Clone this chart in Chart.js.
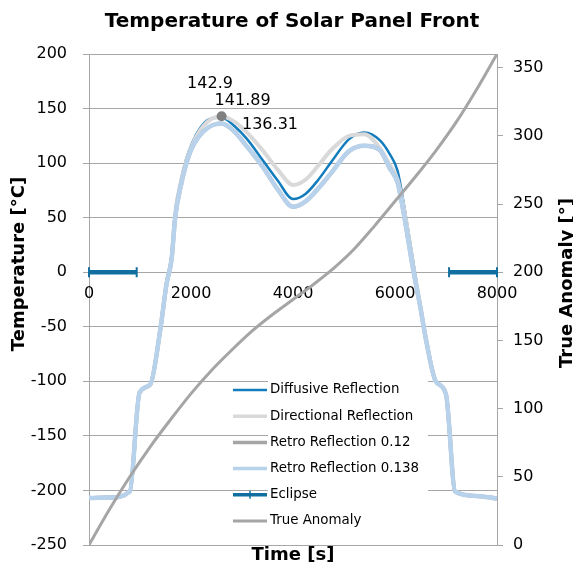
<!DOCTYPE html>
<html><head><meta charset="utf-8">
<script src="https://cdn.jsdelivr.net/npm/chart.js@4"></script>
<style>html,body{margin:0;padding:0;background:#fff;overflow:hidden;}</style>
</head><body>
<canvas id="c" width="573" height="565"></canvas>
<script>
const chartTitle = 'Temperature of Solar Panel Front';
const xTitle = 'Time [s]';
const yTitle = 'Temperature [°C]';
const y2Title = 'True Anomaly [°]';
const seriesNames = ['Diffusive Reflection', 'Directional Reflection', 'Retro Reflection 0.12', 'Retro Reflection 0.138', 'Eclipse', 'True Anomaly'];

const xTicks = [0, 2000, 4000, 6000, 8000];
const yTicks = [-250, -200, -150, -100, -50, 0, 50, 100, 150, 200];
const y2Ticks = [0, 50, 100, 150, 200, 250, 300, 350];

const tempTimes = [0, 400, 800, 990, 1200, 1400, 1520, 1620, 1690, 1800, 1900, 2000, 2150, 2350, 2600, 2850, 3100, 3400, 3700, 4000, 4250, 4500, 4750, 5100, 5400, 5700, 5900, 6050, 6200, 6350, 6500, 6600, 6800, 7000, 7180, 7600, 8000];
const diffusive = [-207, -206.5, -201, -110.5, -103, -50, -8, 16, 56, 84, 103, 116, 130, 140, 141.89, 134, 122, 103, 84, 67, 72, 85, 101, 122, 128, 121, 108, 93, 55, 12, -31, -58, -100, -112, -201, -205, -207.5];
const directional = [-207, -206.5, -201, -110.5, -103, -51, -10, 14, 54, 82, 101, 114, 128, 139, 142.9, 138, 128, 112, 94, 80, 85, 98, 112, 125, 126.5, 114, 98, 85, 52, 8, -32, -59, -100, -112, -201, -205, -207.5];
const retro012 = [-207, -206.5, -201, -110.5, -103, -52, -11, 12, 50, 79, 98, 112, 124, 133, 136.31, 129, 115, 97, 76, 60, 65, 77, 91, 111, 116, 112, 95, 82, 46, 4, -33, -60, -100, -112, -201, -205, -207.5];
const retro0138 = [-207, -206.5, -201, -110.5, -103, -52, -11, 12, 50, 79, 98, 112, 124, 133, 136.31, 129, 115, 97, 76, 60, 65, 77, 91, 111, 116, 112, 95, 82, 46, 4, -33, -60, -100, -112, -201, -205, -207.5];
const peakIndex = 14;

const eclipseTimes = [0, 935, 4000, 7060, 8000];
const eclipseVals = [0, 0, null, 0, 0];

const anomalyTimes = [0, 400, 800, 1200, 1600, 2000, 2400, 2800, 3200, 3600, 4000, 4400, 4800, 5200, 5600, 6000, 6400, 6800, 7200, 7600, 8000];
const anomalyVals = [0, 26, 50, 72, 92, 111, 128, 143, 157, 169, 180, 191, 203, 217, 234, 252, 270, 289, 310, 334, 360];

const FONT = 'DejaVu Sans';
const GRID = '#A6A6A6';

function pts(xs, ys) { return xs.map((x, i) => ({x: x, y: ys[i]})); }

const datasets = [
  {label: seriesNames[0], data: pts(tempTimes, diffusive), borderColor: '#137CBD', borderWidth: 2.5, yAxisID: 'y', order: 6, pointRadius: 0, cubicInterpolationMode: 'monotone'},
  {label: seriesNames[1], data: pts(tempTimes, directional), borderColor: '#D9D9D9', borderWidth: 4, yAxisID: 'y', order: 5,
    pointRadius: tempTimes.map((t, i) => i === peakIndex ? 5 : 0), pointBackgroundColor: '#808080', pointBorderWidth: 0, cubicInterpolationMode: 'monotone'},
  {label: seriesNames[2], data: pts(tempTimes, retro012), borderColor: '#A5A5A5', borderWidth: 4, yAxisID: 'y', order: 4, pointRadius: 0, cubicInterpolationMode: 'monotone'},
  {label: seriesNames[3], data: pts(tempTimes, retro0138), borderColor: '#B8D2EB', borderWidth: 4.5, yAxisID: 'y', order: 3, pointRadius: 0, cubicInterpolationMode: 'monotone'},
  {label: seriesNames[4], data: pts(eclipseTimes, eclipseVals), borderColor: '#106EA1', borderWidth: 4.5, yAxisID: 'y', order: 2,
    pointStyle: 'line', pointRotation: 90, pointRadius: 5, pointBorderWidth: 2, pointBorderColor: '#106EA1', spanGaps: false, clip: false},
  {label: seriesNames[5], data: pts(anomalyTimes, anomalyVals), borderColor: '#A5A5A5', borderWidth: 3, yAxisID: 'y2', order: 1, pointRadius: 0, cubicInterpolationMode: 'monotone'}
];

const peakLabels = [
  {ds: 1, dx: -11.6, dy: -32.5},
  {ds: 0, dx: 21, dy: -17},
  {ds: 3, dx: 48.4, dy: 1}
];

const decor = {
  id: 'decor',
  beforeDatasetsDraw(chart) {
    const ctx = chart.ctx;
    const xs = chart.scales.x, ys = chart.scales.y;
    const y0 = ys.getPixelForValue(0);
    ctx.save();
    ctx.font = '16px "' + FONT + '"';
    ctx.fillStyle = '#000';
    ctx.textAlign = 'center';
    ctx.textBaseline = 'middle';
    xTicks.forEach(v => ctx.fillText(String(v), xs.getPixelForValue(v), y0 + 22));
    ctx.restore();
  },
  afterDatasetsDraw(chart) {
    const ctx = chart.ctx;
    ctx.save();
    ctx.font = '16px "' + FONT + '"';
    ctx.fillStyle = '#000';
    ctx.textAlign = 'center';
    ctx.textBaseline = 'middle';
    peakLabels.forEach(p => {
      const el = chart.getDatasetMeta(p.ds).data[peakIndex];
      const v = chart.data.datasets[p.ds].data[peakIndex].y;
      ctx.fillText(String(v), el.x + p.dx, el.y + p.dy);
    });
    ctx.fillStyle = '#fff';
    ctx.fillRect(268, 381, 160, 150);
    const lx = 233, tx = 270, y0 = 390, step = 26.2;
    ctx.font = '13.4px "' + FONT + '"';
    ctx.textAlign = 'left';
    chart.data.datasets.forEach((d, i) => {
      const y = y0 + i * step;
      ctx.strokeStyle = d.borderColor;
      ctx.lineWidth = Math.min(d.borderWidth, 3.5);
      ctx.lineCap = 'butt';
      ctx.beginPath(); ctx.moveTo(lx, y); ctx.lineTo(lx + 34, y); ctx.stroke();
      if (d.pointStyle === 'line') {
        ctx.lineWidth = 1.5;
        ctx.beginPath(); ctx.moveTo(lx + 17, y - 4); ctx.lineTo(lx + 17, y + 4); ctx.stroke();
      }
      ctx.fillStyle = '#000';
      ctx.fillText(d.label, tx, y);
    });
    ctx.restore();
  },
  afterDraw(chart) {
    const ctx = chart.ctx;
    const a = chart.chartArea;
    ctx.save();
    ctx.fillStyle = '#000';
    ctx.textAlign = 'center';
    ctx.textBaseline = 'middle';
    ctx.font = 'bold 20px "' + FONT + '"';
    ctx.fillText(chartTitle, 292, 22);
    ctx.font = 'bold 18px "' + FONT + '"';
    ctx.fillText(xTitle, (a.left + a.right) / 2, 555);
    ctx.save();
    ctx.translate(19, 264); ctx.rotate(-Math.PI / 2);
    ctx.fillText(yTitle, 0, 0);
    ctx.restore();
    ctx.save();
    ctx.translate(567, 283); ctx.rotate(-Math.PI / 2);
    ctx.fillText(y2Title, 0, 0);
    ctx.restore();
    ctx.restore();
  }
};

new Chart(document.getElementById('c'), {
  type: 'line',
  data: {datasets: datasets},
  plugins: [decor],
  options: {
    responsive: false,
    devicePixelRatio: 1,
    animation: false,
    events: [],
    layout: {padding: {top: 54, bottom: 20, left: 0, right: 0}},
    plugins: {legend: {display: false}, tooltip: {enabled: false}, title: {display: false}},
    scales: {
      x: {
        type: 'linear', display: false, min: xTicks[0], max: xTicks[xTicks.length - 1]
      },
      y: {
        position: 'left', min: yTicks[0], max: yTicks[yTicks.length - 1],
        afterBuildTicks: s => { s.ticks = yTicks.map(v => ({value: v})); },
        afterFit: s => { s.width = 89; s.paddingTop = 0; s.paddingBottom = 0; },
        ticks: {color: '#000', font: {family: FONT, size: 16}, padding: 16, callback: v => String(v)},
        grid: {color: GRID, lineWidth: 1, tickLength: 6, drawTicks: true},
        border: {color: GRID, width: 1}
      },
      y2: {
        position: 'right', min: 0, max: 360,
        afterBuildTicks: s => { s.ticks = y2Ticks.map(v => ({value: v})); },
        afterFit: s => { s.width = 76; s.paddingTop = 0; s.paddingBottom = 0; },
        ticks: {color: '#000', font: {family: FONT, size: 16}, padding: 10, callback: v => String(v)},
        grid: {drawOnChartArea: false, color: GRID, tickLength: 6, drawTicks: true},
        border: {color: GRID, width: 1}
      }
    }
  }
});
</script>
</body></html>
